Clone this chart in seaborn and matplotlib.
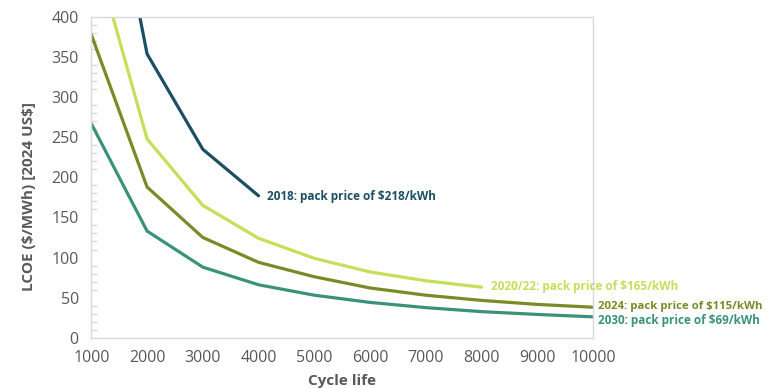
import numpy as np
import pandas as pd
import matplotlib
matplotlib.use("Agg")
import matplotlib.pyplot as plt
from matplotlib.ticker import MultipleLocator
import seaborn as sns

sns.set_theme(style="white")
plt.rcParams["font.family"] = ["Open Sans", "DejaVu Sans"]

# cycle life values
cycles_2018 = [1000, 2000, 3000, 4000]
lcoe_2018 = [710, 354, 235, 177]

cycles_2022 = [1000, 2000, 3000, 4000, 5000, 6000, 7000, 8000]
lcoe_2022 = [496, 248, 165, 124, 99, 82, 71, 63]

cycles_2024 = [1000, 2000, 3000, 4000, 5000, 6000, 7000, 8000, 9000, 10000]
lcoe_2024 = [378, 188, 125, 94, 76, 62, 53, 46.5, 41.5, 38]

cycles_2030 = [1000, 2000, 3000, 4000, 5000, 6000, 7000, 8000, 9000, 10000]
lcoe_2030 = [267, 133, 88, 66, 53, 44, 37.5, 32.5, 29, 26]

series = [
    (r"2018: pack price of \$218/kWh", cycles_2018, lcoe_2018, "#1c4f64", (4150, 176), 8.5),
    (r"2020/22: pack price of \$165/kWh", cycles_2022, lcoe_2022, "#c3e05a", (8170, 64), 8.5),
    (r"2024: pack price of \$115/kWh", cycles_2024, lcoe_2024, "#7a8a26", (10090, 39.5), 8.2),
    (r"2030: pack price of \$69/kWh", cycles_2030, lcoe_2030, "#3a9379", (10090, 21), 8.5),
]

frames = []
for name, xs, ys, _, _, _ in series:
    frames.append(pd.DataFrame({"cycles": xs, "lcoe": ys, "scenario": name}))
df = pd.concat(frames, ignore_index=True)
palette = {s[0]: s[3] for s in series}

fig = plt.figure(figsize=(7.66, 3.89), dpi=100)
ax = fig.add_axes([0.1192, 0.1319, 0.655, 0.8244])

sns.lineplot(data=df, x="cycles", y="lcoe", hue="scenario", palette=palette,
             linewidth=2.3, legend=False, ax=ax)

for name, xs, ys, color, (tx, ty), fs in series:
    ax.text(tx, ty, name, color=color, fontsize=fs, fontweight="bold",
            ha="left", va="center", clip_on=False)

ax.set_xlim(1000, 10000)
ax.set_ylim(0, 400)
ax.xaxis.set_major_locator(MultipleLocator(1000))
ax.yaxis.set_major_locator(MultipleLocator(50))
ax.yaxis.set_minor_locator(MultipleLocator(10))

grey = "#d9d9d9"
for s in ax.spines.values():
    s.set_color(grey)
    s.set_linewidth(1.0)

ax.tick_params(axis="both", which="major", length=5, width=1, color=grey,
               labelsize=11.5, labelcolor="#595959", direction="out", pad=4)
ax.tick_params(axis="x", which="major", direction="inout", length=8, pad=5)
ax.tick_params(axis="y", which="minor", length=4, width=1, color=grey,
               direction="in", left=True)

ax.set_xlabel("Cycle life", fontsize=11, fontweight="bold", color="#595959")
ax.set_ylabel(r"LCOE (\$/MWh) [2024 US\$]", fontsize=11, fontweight="bold",
              color="#595959")
ax.yaxis.set_label_coords(-0.11, 0.44)
ax.xaxis.set_label_coords(0.5, -0.112)

fig.savefig("out.png", dpi=100)
